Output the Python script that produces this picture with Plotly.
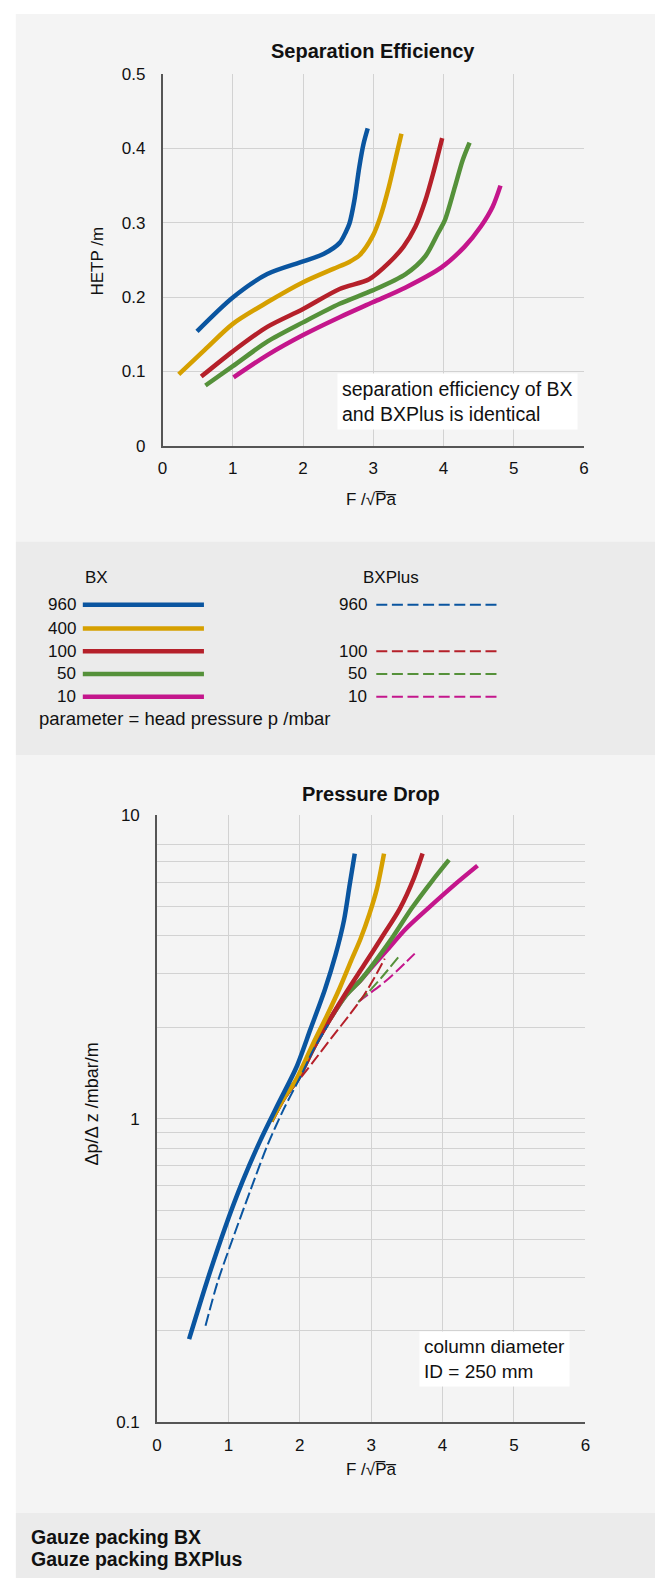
import plotly.graph_objects as go

# ---------------- data ----------------
# Separation efficiency (HETP / m vs F-factor)
sep_960_x = [0.49, 1.0, 1.49, 2.0, 2.29, 2.52, 2.61, 2.66, 2.73, 2.80, 2.86, 2.92]
sep_960_y = [0.154, 0.1996, 0.231, 0.248, 0.258, 0.273, 0.288, 0.299, 0.330, 0.375, 0.406, 0.427]
sep_400_x = [0.23, 0.60, 1.0, 1.49, 2.0, 2.43, 2.65, 2.80, 2.99, 3.10, 3.22, 3.32, 3.40]
sep_400_y = [0.096, 0.129, 0.164, 0.193, 0.220, 0.238, 0.247, 0.256, 0.282, 0.308, 0.348, 0.388, 0.420]
sep_100_x = [0.55, 1.0, 1.49, 2.0, 2.52, 2.94, 3.22, 3.43, 3.60, 3.74, 3.85, 3.98]
sep_100_y = [0.093, 0.127, 0.160, 0.184, 0.211, 0.224, 0.246, 0.268, 0.295, 0.330, 0.366, 0.414]
sep_50_x = [0.61, 1.0, 1.49, 2.0, 2.52, 2.99, 3.46, 3.74, 3.92, 4.02, 4.16, 4.27, 4.37]
sep_50_y = [0.081, 0.107, 0.140, 0.166, 0.191, 0.209, 0.231, 0.255, 0.286, 0.304, 0.348, 0.384, 0.408]
sep_10_x = [1.01, 1.49, 2.0, 2.52, 2.99, 3.46, 3.97, 4.30, 4.53, 4.70, 4.81]
sep_10_y = [0.092, 0.122, 0.149, 0.173, 0.193, 0.213, 0.240, 0.268, 0.295, 0.322, 0.350]

# Pressure drop (mbar/m vs F-factor), BX solid
dp_960_x = [0.45, 0.70, 0.95, 1.20, 1.45, 1.70, 1.95, 2.15, 2.35, 2.50, 2.62, 2.70, 2.77]
dp_960_y = [0.188, 0.291, 0.435, 0.622, 0.849, 1.12, 1.47, 1.97, 2.65, 3.45, 4.5, 5.9, 7.45]
dp_400_x = [1.60, 1.78, 1.94, 2.19, 2.38, 2.56, 2.72, 2.85, 2.98, 3.08, 3.18]
dp_400_y = [0.98, 1.17, 1.33, 1.77, 2.18, 2.69, 3.31, 3.9, 4.75, 5.7, 7.45]
dp_100_x = [1.60, 1.78, 1.98, 2.20, 2.40, 2.65, 2.90, 3.15, 3.40, 3.60, 3.72]
dp_100_y = [0.98, 1.17, 1.36, 1.72, 2.08, 2.6, 3.2, 3.95, 4.9, 6.2, 7.45]
dp_50_x = [1.60, 1.78, 1.98, 2.20, 2.40, 2.65, 2.85, 3.06, 3.30, 3.57, 3.85, 4.09]
dp_50_y = [0.98, 1.17, 1.36, 1.72, 2.08, 2.55, 2.85, 3.3, 3.95, 4.93, 6.04, 7.1]
dp_10_x = [1.60, 1.78, 1.98, 2.20, 2.40, 2.65, 2.85, 3.02, 3.22, 3.48, 3.80, 4.17, 4.49]
dp_10_y = [0.98, 1.17, 1.36, 1.72, 2.08, 2.55, 2.85, 3.17, 3.58, 4.2, 4.93, 5.89, 6.8]

# Pressure drop, BXPlus dashed
dpp_960_x = [0.68, 0.85, 1.09, 1.32, 1.55, 1.78, 2.0, 2.2, 2.40]
dpp_960_y = [0.208, 0.29, 0.42, 0.59, 0.82, 1.08, 1.36, 1.7, 2.04]
dpp_100_x = [2.02, 2.2, 2.45, 2.7, 2.9, 3.05, 3.19]
dpp_100_y = [1.37, 1.55, 1.85, 2.2, 2.55, 2.92, 3.36]
dpp_50_x = [2.82, 2.97, 3.16, 3.39]
dpp_50_y = [2.42, 2.62, 2.94, 3.42]
dpp_10_x = [2.82, 2.95, 3.20, 3.385, 3.61]
dpp_10_y = [2.42, 2.55, 2.83, 3.10, 3.49]

bx_labels = ["960", "400", "100", "50", "10"]
bxplus_labels = ["960", None, "100", "50", "10"]
colors = ["#0a55a0", "#d6a000", "#b5202a", "#55913a", "#c4168c"]

x_ticks = [0, 1, 2, 3, 4, 5, 6]
hetp_ticks = [0, 0.1, 0.2, 0.3, 0.4, 0.5]
hetp_ticktext = ["0", "0.1", "0.2", "0.3", "0.4", "0.5"]
dp_ticks = [0.1, 1, 10]
dp_ticktext = ["0.1", "1", "10"]
dp_minor = [0.2, 0.3, 0.4, 0.5, 0.6, 0.7, 0.8, 0.9, 1, 2, 3, 4, 5, 6, 7, 8]

# ---------------- layout helpers ----------------
W, H = 660, 1588
FONT = "Liberation Sans, Arial, Helvetica, sans-serif"
GRID = "#d2d2d2"
AXIS = "#555555"


def px(x):
    return x / W


def py(y):
    return 1 - y / H


fig = go.Figure()

sep_sets = [(sep_10_x, sep_10_y, 4), (sep_50_x, sep_50_y, 3), (sep_100_x, sep_100_y, 2),
            (sep_400_x, sep_400_y, 1), (sep_960_x, sep_960_y, 0)]
for xs, ys, ci in sep_sets:
    fig.add_trace(go.Scatter(x=xs, y=ys, mode="lines", xaxis="x", yaxis="y",
                             line=dict(color=colors[ci], width=4.5, shape="spline", smoothing=0.8),
                             showlegend=False, hoverinfo="skip"))

dp_sets = [(dp_10_x, dp_10_y, 4), (dp_50_x, dp_50_y, 3), (dp_100_x, dp_100_y, 2),
           (dp_400_x, dp_400_y, 1), (dp_960_x, dp_960_y, 0)]
for xs, ys, ci in dp_sets:
    fig.add_trace(go.Scatter(x=xs, y=ys, mode="lines", xaxis="x2", yaxis="y2",
                             line=dict(color=colors[ci], width=4.5, shape="spline", smoothing=0.8),
                             showlegend=False, hoverinfo="skip"))

dpp_sets = [(dpp_10_x, dpp_10_y, 4), (dpp_50_x, dpp_50_y, 3), (dpp_100_x, dpp_100_y, 2),
            (dpp_960_x, dpp_960_y, 0)]
for xs, ys, ci in dpp_sets:
    fig.add_trace(go.Scatter(x=xs, y=ys, mode="lines", xaxis="x2", yaxis="y2",
                             line=dict(color=colors[ci], width=2, dash="12px,4px",
                                       shape="spline", smoothing=0.8),
                             showlegend=False, hoverinfo="skip"))

shapes = []
# panel backgrounds
for y0, y1, c in [(5, 539, "#f4f4f4"), (539, 755, "#ebebeb"), (755, 1522, "#f4f4f4"), (1522, 1588, "#ebebeb")]:
    shapes.append(dict(type="rect", xref="paper", yref="paper", x0=px(11), x1=1, y0=py(y1), y1=py(y0),
                       fillcolor=c, line=dict(width=0), layer="below"))

annotations = []


def text(x, y, s, size=17, bold=False, xanchor="left", yanchor="middle", align="left", angle=0,
         bg=None, pad=1):
    if bold:
        s = "<b>" + s + "</b>"
    a = dict(x=px(x), y=py(y), xref="paper", yref="paper", text=s, showarrow=False,
             xanchor=xanchor, yanchor=yanchor, align=align, textangle=angle,
             font=dict(family=FONT, size=size, color="#111111"), borderpad=pad)
    if bg:
        a["bgcolor"] = bg
    annotations.append(a)


# titles
text(374, 43, "Separation Efficiency", size=20, bold=True, xanchor="center")
text(372, 794, "Pressure Drop", size=20, bold=True, xanchor="center")
# axis titles
text(372, 496, "F /√P̅a̅", size=17, xanchor="center")
text(94, 255, "HETP /m", size=17, xanchor="center", angle=-90)
text(372, 1478, "F /√P̅a̅", size=17, xanchor="center")
text(88, 1108, "Δp/Δ z /mbar/m", size=18, xanchor="center", angle=-90)
# notes inside plots
text(337, 397, "separation efficiency of BX<br>and BXPlus is identical", size=19.5, bg="white", pad=4)
text(420, 1366, "column diameter<br>ID = 250 mm", size=19, bg="white", pad=4)

# legend block
text(79, 575, "BX", size=17)
text(361, 575, "BXPlus", size=17)
rows = [603, 627, 650, 673, 696]
for i, (lab, lab2) in enumerate(zip(bx_labels, bxplus_labels)):
    yv = rows[i]
    text(74, yv, lab, size=17, xanchor="right")
    shapes.append(dict(type="line", xref="paper", yref="paper", x0=px(79), x1=px(202), y0=py(yv), y1=py(yv),
                       line=dict(color=colors[i], width=4.5)))
    if lab2:
        text(370, yv, lab2, size=17, xanchor="right")
        shapes.append(dict(type="line", xref="paper", yref="paper", x0=px(377), x1=px(501), y0=py(yv), y1=py(yv),
                           line=dict(color=colors[i], width=2, dash="11px,4.6px")))
text(32, 718, "parameter = head pressure p /mbar", size=18.5)

# footer
text(24, 1546, "Gauze packing BX", size=19.5, bold=True)
text(24, 1569, "Gauze packing BXPlus", size=19.5, bold=True)

tickfont = dict(family=FONT, size=17, color="#111111")

fig.update_layout(
    width=W, height=H, margin=dict(l=0, r=0, t=0, b=0),
    paper_bgcolor="white", plot_bgcolor="white",
    showlegend=False, shapes=shapes, annotations=annotations,
    xaxis=dict(domain=[px(160), px(588)], range=[0, 6], anchor="y",
               tickmode="array", tickvals=x_ticks, ticktext=[str(v) for v in x_ticks],
               showgrid=False, zeroline=False, showline=True, linecolor=AXIS, linewidth=1.5,
               ticks="", ticklabelstandoff=6, tickfont=tickfont, fixedrange=True,
               minor=dict(tickmode="array", tickvals=[1, 2, 3, 4, 5], showgrid=True,
                          gridcolor=GRID, gridwidth=1, ticks="")),
    yaxis=dict(domain=[py(442), py(66)], range=[0, 0.5], anchor="x",
               tickmode="array", tickvals=hetp_ticks, ticktext=hetp_ticktext,
               showgrid=False, zeroline=False, showline=True, linecolor=AXIS, linewidth=1.5,
               ticks="", ticklabelstandoff=12, tickfont=tickfont, fixedrange=True,
               minor=dict(tickmode="array", tickvals=[0.1, 0.2, 0.3, 0.4], showgrid=True,
                          gridcolor=GRID, gridwidth=1, ticks="")),
    xaxis2=dict(domain=[px(154.3), px(589.3)], range=[0, 6], anchor="y2",
                tickmode="array", tickvals=x_ticks, ticktext=[str(v) for v in x_ticks],
                showgrid=False, zeroline=False, showline=True, linecolor=AXIS, linewidth=1.5,
                ticks="", ticklabelstandoff=6, tickfont=tickfont, fixedrange=True,
                minor=dict(tickmode="array", tickvals=[1, 2, 3, 4, 5], showgrid=True,
                           gridcolor=GRID, gridwidth=1, ticks="")),
    yaxis2=dict(domain=[py(1430.5), py(815.5)], type="log", range=[-1, 1], anchor="x2",
                tickmode="array", tickvals=dp_ticks, ticktext=dp_ticktext,
                showgrid=False, zeroline=False, showline=True, linecolor=AXIS, linewidth=1.5,
                ticks="", ticklabelstandoff=12, tickfont=tickfont, fixedrange=True,
                minor=dict(tickmode="array", tickvals=dp_minor, showgrid=True,
                           gridcolor=GRID, gridwidth=1, ticks="")),
)

fig.write_html("out.html", config={"displayModeBar": False},
               post_script="document.body.style.margin='0px';document.body.style.overflow='hidden';")
